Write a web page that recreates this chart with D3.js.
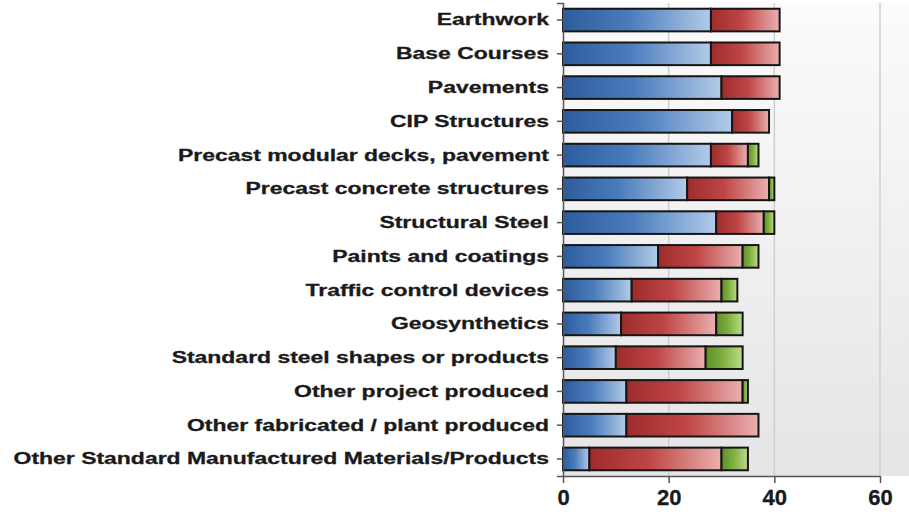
<!DOCTYPE html>
<html>
<head>
<meta charset="utf-8">
<script src="https://cdn.jsdelivr.net/npm/d3@7"></script>
<style>
body { margin: 0; background: #fff; }
text { font-family: "Liberation Sans", Arial, sans-serif; font-weight: bold; fill: #1a1a1a; }
</style>
</head>
<body>
<div id="chart"></div>
<script>
var categories = [
"Earthwork",
"Base Courses",
"Pavements",
"CIP Structures",
"Precast modular decks, pavement",
"Precast concrete structures",
"Structural Steel",
"Paints and coatings",
"Traffic control devices",
"Geosynthetics",
"Standard steel shapes or products",
"Other project produced",
"Other fabricated / plant produced",
"Other Standard Manufactured Materials/Products"]

var blueValues  = [28, 28, 30, 32, 28, 23.5, 29, 18, 13, 11, 10, 12, 12, 5]
var redValues   = [13, 13, 11, 7, 7, 15.5, 9, 16, 17, 18, 17, 22, 25, 25]
var greenValues = [0, 0, 0, 0, 2, 1, 2, 3, 3, 5, 7, 1, 0, 5]

var xTicks = [0, 20, 40, 60]

var svgWidth = 909, svgHeight = 516;
var margin = {top: 3, right: 0, bottom: 40, left: 563},
width = svgWidth - margin.left - margin.right,
height = svgHeight - margin.top - margin.bottom;

var svg = d3.select("#chart")
	.append("svg")
		.attr("width", svgWidth)
		.attr("height", svgHeight)

var defs = svg.append("defs");

// background gradient of the plot
var bg = defs.append("linearGradient").attr("id", "bg")
	.attr("x1", 0).attr("y1", 0).attr("x2", 0).attr("y2", 1);
bg.append("stop").attr("offset", "0%").attr("stop-color", "#fbfbfb");
bg.append("stop").attr("offset", "100%").attr("stop-color", "#e5e5e5");

// one horizontal gradient per series
var series = [
	{key: "blue", values: blueValues, dark: "#2d5c9c", mid: "#4a7cbc", light: "#b3cbe8"},
	{key: "red", values: redValues, dark: "#9e2c2c", mid: "#bf4545", light: "#eab0b0"},
	{key: "green", values: greenValues, dark: "#5f8d2a", mid: "#7fae3e", light: "#bedc8c"}
];
series.forEach(s => {
	var g = defs.append("linearGradient").attr("id", "grad_" + s.key)
		.attr("x1", 0).attr("y1", 0).attr("x2", 1).attr("y2", 0);
	g.append("stop").attr("offset", "0%").attr("stop-color", s.dark);
	g.append("stop").attr("offset", "45%").attr("stop-color", s.mid);
	g.append("stop").attr("offset", "100%").attr("stop-color", s.light);
});

var plot = svg.append("g")
	.attr("transform", `translate(${margin.left},${margin.top})`);

var x = d3.scaleLinear()
	.domain([0, 60])
	.range([0, 317]);

var y = d3.scaleBand()
	.domain(categories)
	.range([0, height])
	.paddingInner(0.33)
	.paddingOuter(0.17);

plot.append("rect")
	.attr("width", width)
	.attr("height", height)
	.attr("fill", "url(#bg)");

// grid lines
plot.selectAll(".grid")
	.data(xTicks.slice(1))
	.enter().append("line")
		.attr("x1", d => x(d)).attr("x2", d => x(d))
		.attr("y1", 0).attr("y2", height)
		.attr("stroke", "#cfcfcf")
		.attr("stroke-width", 1.5);

// stacked bars
categories.forEach((cat, i) => {
	var start = 0;
	series.forEach(s => {
		var v = s.values[i];
		if (v > 0) {
			plot.append("rect")
				.attr("x", x(start))
				.attr("y", y(cat))
				.attr("width", x(start + v) - x(start))
				.attr("height", y.bandwidth())
				.attr("fill", "url(#grad_" + s.key + ")")
				.attr("stroke", "#151515")
				.attr("stroke-width", 2);
		}
		start += v;
	});
});

// y axis
var yAxis = plot.append("g")
	.call(d3.axisLeft(y).tickSize(6).tickPadding(5));
yAxis.select(".domain").attr("stroke", "#555").attr("stroke-width", 1.5);
yAxis.selectAll(".tick line").attr("stroke", "#555").attr("stroke-width", 1.5);
// labels in the picture are wide and heavy, stretch them sideways
yAxis.selectAll("text")
	.attr("x", 0)
	.attr("transform", "translate(-14,0) scale(1.35,1)")
	.style("font-size", "17px")
	.style("font-family", "'Liberation Sans', Arial, sans-serif")
	.style("font-weight", "bold")
	.attr("fill", "#1a1a1a")
	.attr("stroke", "#1a1a1a")
	.attr("stroke-width", 0.3);

// x axis
var xAxis = plot.append("g")
	.attr("transform", `translate(0, ${height})`)
	.call(d3.axisBottom(x).tickValues(xTicks).tickSize(7).tickPadding(6).tickSizeOuter(0));
xAxis.select(".domain").attr("stroke", "#555").attr("stroke-width", 1.5);
xAxis.selectAll(".tick line").attr("stroke", "#555").attr("stroke-width", 1.5);
xAxis.selectAll("text")
	.style("font-size", "22px")
	.style("font-family", "'Liberation Sans', Arial, sans-serif")
	.style("font-weight", "bold")
	.attr("fill", "#1a1a1a")
	.attr("stroke", "#1a1a1a")
	.attr("stroke-width", 0.3);
</script>
</body>
</html>
